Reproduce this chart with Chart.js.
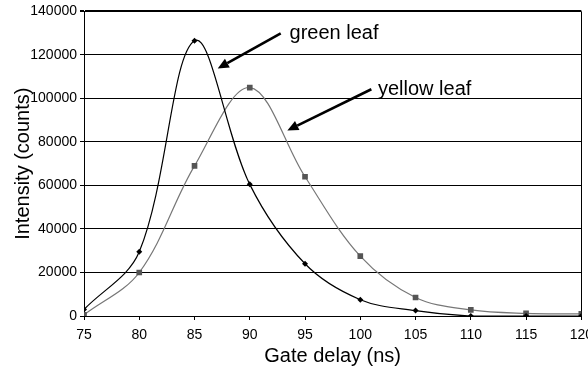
<!DOCTYPE html>
<html>
<head>
<meta charset="utf-8">
<script src="https://cdn.jsdelivr.net/npm/chart.js@4/dist/chart.umd.min.js"></script>
<style>
html,body{margin:0;padding:0;background:#fff;overflow:hidden;}
#wrap{width:600px;height:368px;position:relative;}
</style>
</head>
<body>
<div id="wrap"><canvas id="c"></canvas></div>
<script>
const gateDelay = [75, 80, 85, 90, 95, 100, 105, 110, 115, 120];
const greenLeaf = [3000, 29500, 126500, 60500, 24000, 7500, 2500, 0, 0, 0];
const yellowLeaf = [500, 20000, 69000, 105000, 64000, 27500, 8500, 2800, 1200, 1000];
const yTicks = [0, 20000, 40000, 60000, 80000, 100000, 120000, 140000];
const xTicks = [75, 80, 85, 90, 95, 100, 105, 110, 115, 120];

// annotation labels with arrow (data coordinates)
const notes = [
  {text: 'green leaf', tx: 93.6, ty: 129900, from: [92.8, 129900], to: [87.1, 113800]},
  {text: 'yellow leaf', tx: 101.6, ty: 104200, from: [101.0, 104200], to: [93.4, 85300]}
];

const toPts = arr => arr.map((v, i) => ({x: gateDelay[i], y: v}));

const notePlugin = {
  id: 'notes',
  afterDatasetsDraw(chart) {
    const {ctx, scales: {x, y}} = chart;
    ctx.save();
    notes.forEach(n => {
      const fx = x.getPixelForValue(n.from[0]), fy = y.getPixelForValue(n.from[1]);
      const tx = x.getPixelForValue(n.to[0]), ty = y.getPixelForValue(n.to[1]);
      const ang = Math.atan2(ty - fy, tx - fx);
      const hl = 11, hw = 5;
      const bx = tx - hl * Math.cos(ang), by = ty - hl * Math.sin(ang);
      ctx.strokeStyle = '#000';
      ctx.fillStyle = '#000';
      ctx.lineWidth = 2.6;
      ctx.beginPath();
      ctx.moveTo(fx, fy);
      ctx.lineTo(bx, by);
      ctx.stroke();
      ctx.beginPath();
      ctx.moveTo(tx, ty);
      ctx.lineTo(bx + hw * Math.sin(ang), by - hw * Math.cos(ang));
      ctx.lineTo(bx - hw * Math.sin(ang), by + hw * Math.cos(ang));
      ctx.closePath();
      ctx.fill();
      ctx.font = '20px "Liberation Sans", Arial, sans-serif';
      ctx.textAlign = 'left';
      ctx.textBaseline = 'middle';
      ctx.fillText(n.text, x.getPixelForValue(n.tx), y.getPixelForValue(n.ty));
    });
    ctx.restore();
  }
};

Chart.defaults.font.family = '"Liberation Sans", Arial, sans-serif';
Chart.defaults.color = '#000';

new Chart(document.getElementById('c'), {
  type: 'line',
  data: {
    datasets: [
      {
        label: 'green leaf',
        data: toPts(greenLeaf),
        borderColor: '#000',
        borderWidth: 1.2,
        pointStyle: 'rectRot',
        pointRadius: 3,
        pointBackgroundColor: '#000',
        pointBorderColor: '#000',
        pointBorderWidth: 0,
        tension: 0.35,
        fill: false
      },
      {
        label: 'yellow leaf',
        data: toPts(yellowLeaf),
        borderColor: '#777',
        borderWidth: 1.2,
        pointStyle: 'rect',
        pointRadius: 4,
        pointBackgroundColor: '#555',
        pointBorderColor: '#555',
        pointBorderWidth: 0,
        tension: 0.35,
        fill: false
      }
    ]
  },
  options: {
    responsive: true,
    maintainAspectRatio: false,
    animation: false,
    layout: {padding: {top: 11, right: 18, left: 0, bottom: 0}},
    plugins: {legend: {display: false}, tooltip: {enabled: false}},
    scales: {
      x: {
        type: 'linear',
        min: 75, max: 120,
        afterBuildTicks: s => { s.ticks = xTicks.map(v => ({value: v})); },
        afterFit: s => { s.height = 52; },
        ticks: {font: {size: 14}, padding: 7, maxRotation: 0, autoSkip: false},
        grid: {
          drawOnChartArea: true,
          color: c => (c.tick && c.tick.value === 120) ? '#000' : 'rgba(0,0,0,0)',
          tickColor: '#000',
          tickLength: 4,
          lineWidth: 1
        },
        border: {display: true, color: '#000', width: 1},
        title: {display: true, text: 'Gate delay (ns)', font: {size: 20}, padding: {top: 0, bottom: 0}}
      },
      y: {
        min: 0, max: 140000,
        afterBuildTicks: s => { s.ticks = yTicks.map(v => ({value: v})); },
        afterFit: s => { s.width = 84; },
        ticks: {font: {size: 14}, padding: 3, callback: v => String(v)},
        grid: {
          color: '#000',
          tickColor: '#000',
          tickLength: 4,
          lineWidth: c => (c.tick && c.tick.value === 140000) ? 2 : 1
        },
        border: {display: true, color: '#000', width: 1},
        title: {display: true, text: 'Intensity (counts)', font: {size: 20}, padding: {top: 11, bottom: 0}}
      }
    }
  },
  plugins: [notePlugin]
});
</script>
</body>
</html>
